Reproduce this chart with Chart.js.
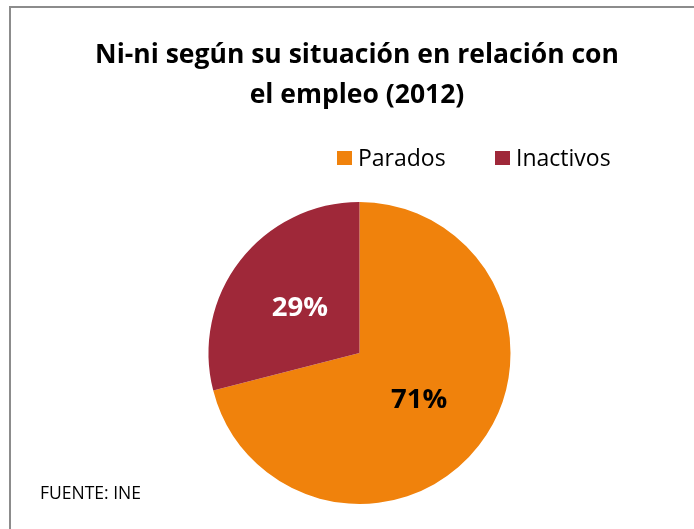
<!DOCTYPE html>
<html>
<head>
<meta charset="utf-8">
<script src="https://cdn.jsdelivr.net/npm/chart.js@4/dist/chart.umd.min.js"></script>
<style>
  html, body { margin: 0; padding: 0; background: #fff; overflow: hidden; }
  #wrap { position: relative; width: 694px; height: 529px; }
  #frame { position: absolute; left: 9px; top: 6px; width: 700px; height: 540px; border: 2px solid #8c8c8c; box-sizing: border-box; }
  canvas { position: absolute; left: 0; top: 0; }
</style>
</head>
<body>
<div id="wrap">
  <div id="frame"></div>
  <canvas id="pie" width="694" height="529"></canvas>
</div>
<script>
const titleLines = ["Ni-ni según su situación en relación con", "el empleo (2012)"];
const categories = ["Parados", "Inactivos"];
const shares = [71, 29];
const sliceColors = ["#F0820C", "#9F2839"];
const labelColors = ["#000000", "#ffffff"];
const sourceNote = "FUENTE: INE";

const FONT = "'Open Sans', 'Noto Sans', sans-serif";

// title, legend, slice labels and source note, drawn by hand to match placement
const decorations = {
  id: "decorations",
  afterDraw(chart) {
    const ctx = chart.ctx;
    ctx.save();

    ctx.fillStyle = "#000";
    ctx.textAlign = "center";
    ctx.textBaseline = "middle";
    ctx.font = "bold 26.5px " + FONT;
    ctx.fillText(titleLines[0], 357, 55);
    ctx.fillText(titleLines[1], 357, 95);

    // legend
    const colors = chart.data.datasets[0].backgroundColor;
    const legendX = [337, 495];
    ctx.font = "23px " + FONT;
    ctx.textAlign = "left";
    chart.data.labels.forEach((lab, i) => {
      ctx.fillStyle = colors[i];
      ctx.fillRect(legendX[i], 151, 15, 14);
      ctx.fillStyle = "#000";
      ctx.fillText(lab, legendX[i] + 21, 159);
    });

    // percentages in the slices
    const meta = chart.getDatasetMeta(0);
    const data = chart.data.datasets[0].data;
    const total = data.reduce((a, b) => a + b, 0);
    ctx.font = "bold 27.5px " + FONT;
    ctx.textAlign = "center";
    meta.data.forEach((arc, i) => {
      const p = arc.tooltipPosition();
      ctx.fillStyle = labelColors[i];
      ctx.fillText(Math.round(data[i] / total * 100) + "%", p.x, p.y + 1);
    });

    ctx.font = "17.5px " + FONT;
    ctx.textAlign = "left";
    ctx.fillStyle = "#000";
    ctx.fillText(sourceNote, 40, 494);

    ctx.restore();
  }
};

new Chart(document.getElementById("pie"), {
  type: "pie",
  data: {
    labels: categories,
    datasets: [{
      data: shares,
      backgroundColor: sliceColors,
      borderWidth: 0
    }]
  },
  options: {
    responsive: false,
    animation: false,
    layout: { padding: { left: 208, right: 183, top: 202, bottom: 25 } },
    plugins: {
      legend: { display: false },
      title: { display: false },
      tooltip: { enabled: false }
    }
  },
  plugins: [decorations]
});
</script>
</body>
</html>
